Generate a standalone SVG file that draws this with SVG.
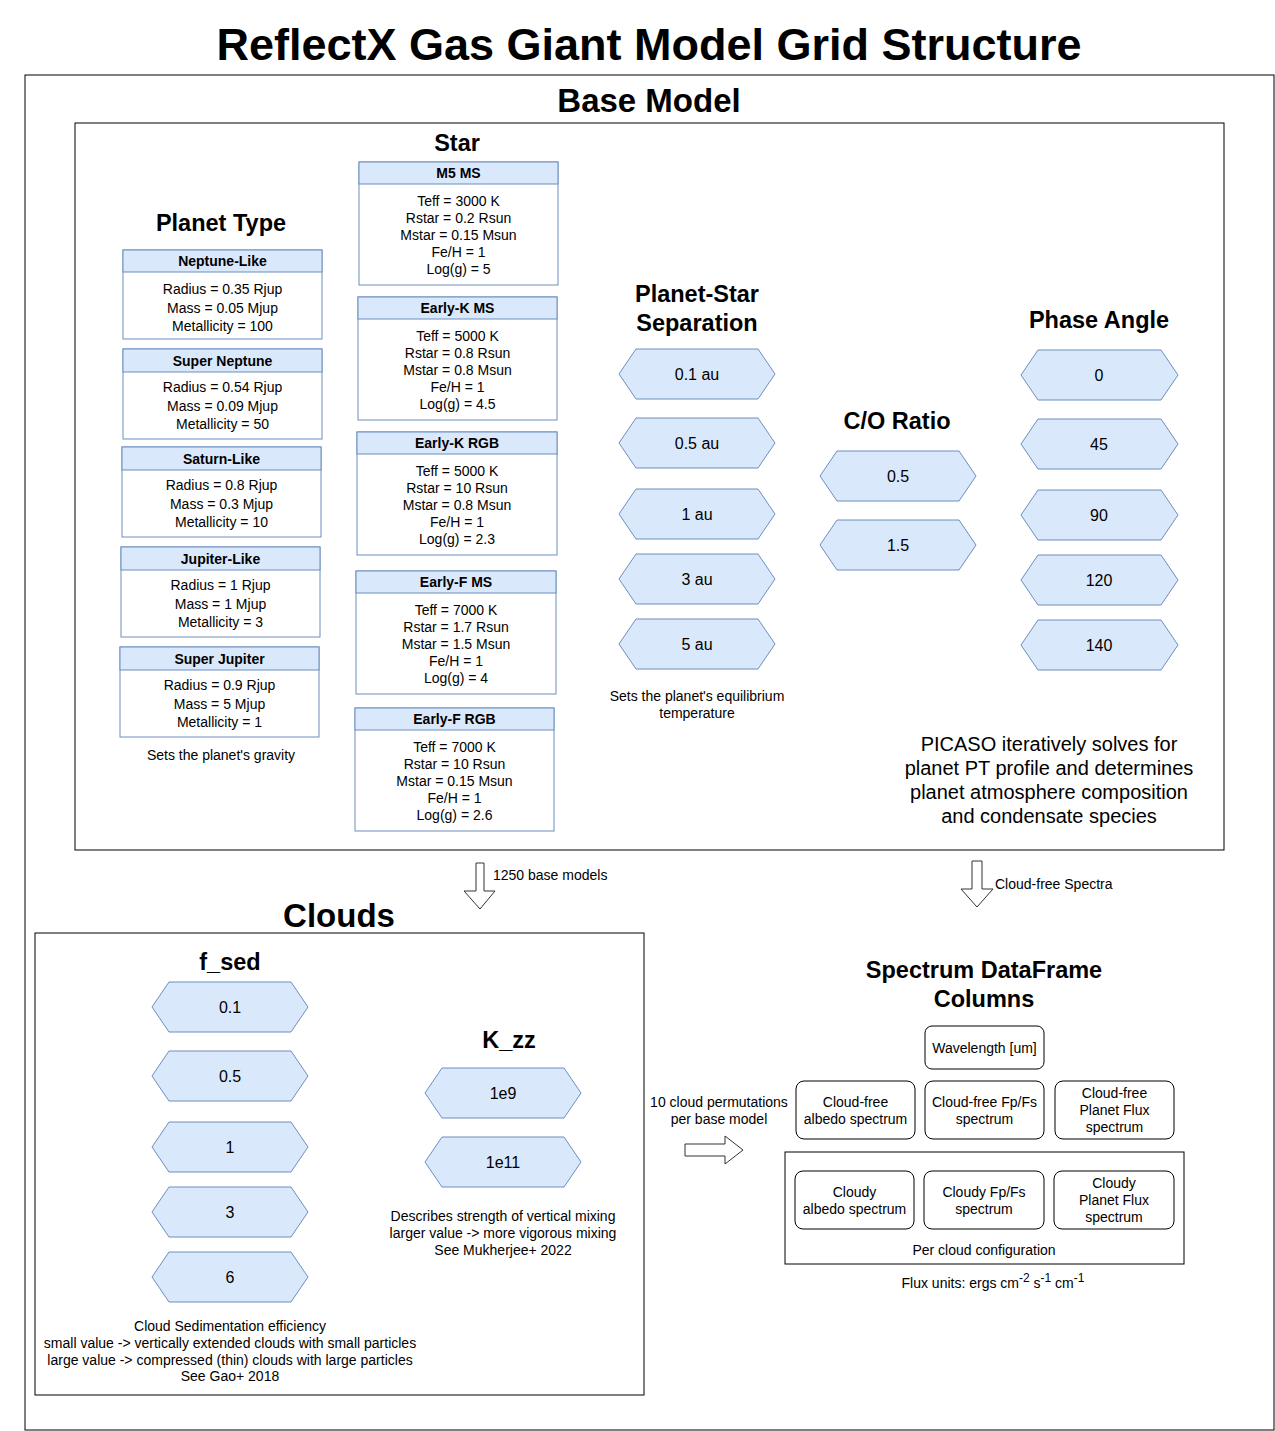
<svg xmlns="http://www.w3.org/2000/svg" width="1275" height="1431" viewBox="0 0 1275 1431">
<style>
text{font-family:"Liberation Sans",Arial,sans-serif;fill:#000;text-anchor:middle}
.t{font-size:45px;font-weight:bold}
.h1{font-size:33px;font-weight:bold}
.h2{font-size:23.5px;font-weight:bold}
.b{font-size:14px}
.bb{font-size:14px;font-weight:bold}
.hx{font-size:16px}
.sp{font-size:14px}
.pic{font-size:20px}
.frame{fill:none;stroke:#000;stroke-width:1}
.card{fill:#fff;stroke:#6c8ebf;stroke-width:1}
.hdr{fill:#dae8fc;stroke:#6c8ebf;stroke-width:1}
.hex{fill:#dae8fc;stroke:#6c8ebf;stroke-width:1}
.rr{fill:#fff;stroke:#000;stroke-width:1}
.arr{fill:#fff;stroke:#333;stroke-width:1}
.l{text-anchor:start}
</style>

<text class="t" x="649" y="60">ReflectX Gas Giant Model Grid Structure</text>
<rect class="frame" x="25" y="75" width="1249" height="1355"/>

<g id="base-model">
<text class="h1" x="649" y="112">Base Model</text>
<rect class="frame" x="75" y="123" width="1149" height="727"/>
</g>

<!-- Planet Type -->
<g id="planet-type">
<text class="h2" x="221" y="231">Planet Type</text>
<text class="b" x="221" y="760">Sets the planet's gravity</text>
</g>
<g id="neptune-like">
<rect class="card" x="123" y="250" width="199" height="89"/>
<rect class="hdr" x="123" y="250" width="199" height="22"/>
<text class="bb" x="222.5" y="266">Neptune-Like</text>
<text class="b" x="222.5" y="294">Radius = 0.35 Rjup</text>
<text class="b" x="222.5" y="312.5">Mass = 0.05 Mjup</text>
<text class="b" x="222.5" y="331">Metallicity = 100</text>
</g>
<g id="super-neptune">
<rect class="card" x="123" y="349" width="199" height="90"/>
<rect class="hdr" x="123" y="349" width="199" height="23"/>
<text class="bb" x="222.5" y="365.5">Super Neptune</text>
<text class="b" x="222.5" y="392">Radius = 0.54 Rjup</text>
<text class="b" x="222.5" y="410.5">Mass = 0.09 Mjup</text>
<text class="b" x="222.5" y="429">Metallicity = 50</text>
</g>
<g id="saturn-like">
<rect class="card" x="122" y="447" width="199" height="90"/>
<rect class="hdr" x="122" y="447" width="199" height="23"/>
<text class="bb" x="221.5" y="463.5">Saturn-Like</text>
<text class="b" x="221.5" y="490">Radius = 0.8 Rjup</text>
<text class="b" x="221.5" y="508.5">Mass = 0.3 Mjup</text>
<text class="b" x="221.5" y="527">Metallicity = 10</text>
</g>
<g id="jupiter-like">
<rect class="card" x="121" y="547" width="199" height="90"/>
<rect class="hdr" x="121" y="547" width="199" height="23"/>
<text class="bb" x="220.5" y="563.5">Jupiter-Like</text>
<text class="b" x="220.5" y="590">Radius = 1 Rjup</text>
<text class="b" x="220.5" y="608.5">Mass = 1 Mjup</text>
<text class="b" x="220.5" y="627">Metallicity = 3</text>
</g>
<g id="super-jupiter">
<rect class="card" x="120" y="647" width="199" height="90"/>
<rect class="hdr" x="120" y="647" width="199" height="23"/>
<text class="bb" x="219.5" y="663.5">Super Jupiter</text>
<text class="b" x="219.5" y="690">Radius = 0.9 Rjup</text>
<text class="b" x="219.5" y="708.5">Mass = 5 Mjup</text>
<text class="b" x="219.5" y="727">Metallicity = 1</text>
</g>

<!-- Star -->
<g id="star">
<text class="h2" x="457" y="151">Star</text>
</g>
<g id="m5-ms">
<rect class="card" x="359" y="162" width="199" height="123"/>
<rect class="hdr" x="359" y="162" width="199" height="22"/>
<text class="bb" x="458.5" y="178">M5 MS</text>
<text class="b" x="458.5" y="206">Teff = 3000 K</text>
<text class="b" x="458.5" y="223">Rstar = 0.2 Rsun</text>
<text class="b" x="458.5" y="240">Mstar = 0.15 Msun</text>
<text class="b" x="458.5" y="257">Fe/H = 1</text>
<text class="b" x="458.5" y="274">Log(g) = 5</text>
</g>
<g id="early-k-ms">
<rect class="card" x="358" y="297" width="199" height="123"/>
<rect class="hdr" x="358" y="297" width="199" height="22"/>
<text class="bb" x="457.5" y="313">Early-K MS</text>
<text class="b" x="457.5" y="341">Teff = 5000 K</text>
<text class="b" x="457.5" y="358">Rstar = 0.8 Rsun</text>
<text class="b" x="457.5" y="375">Mstar = 0.8 Msun</text>
<text class="b" x="457.5" y="392">Fe/H = 1</text>
<text class="b" x="457.5" y="409">Log(g) = 4.5</text>
</g>
<g id="early-k-rgb">
<rect class="card" x="357" y="432" width="200" height="123"/>
<rect class="hdr" x="357" y="432" width="200" height="22"/>
<text class="bb" x="457" y="448">Early-K RGB</text>
<text class="b" x="457" y="476">Teff = 5000 K</text>
<text class="b" x="457" y="493">Rstar = 10 Rsun</text>
<text class="b" x="457" y="510">Mstar = 0.8 Msun</text>
<text class="b" x="457" y="527">Fe/H = 1</text>
<text class="b" x="457" y="544">Log(g) = 2.3</text>
</g>
<g id="early-f-ms">
<rect class="card" x="356" y="571" width="200" height="123"/>
<rect class="hdr" x="356" y="571" width="200" height="22"/>
<text class="bb" x="456" y="587">Early-F MS</text>
<text class="b" x="456" y="615">Teff = 7000 K</text>
<text class="b" x="456" y="632">Rstar = 1.7 Rsun</text>
<text class="b" x="456" y="649">Mstar = 1.5 Msun</text>
<text class="b" x="456" y="666">Fe/H = 1</text>
<text class="b" x="456" y="683">Log(g) = 4</text>
</g>
<g id="early-f-rgb">
<rect class="card" x="355" y="708" width="199" height="123"/>
<rect class="hdr" x="355" y="708" width="199" height="22"/>
<text class="bb" x="454.5" y="724">Early-F RGB</text>
<text class="b" x="454.5" y="752">Teff = 7000 K</text>
<text class="b" x="454.5" y="769">Rstar = 10 Rsun</text>
<text class="b" x="454.5" y="786">Mstar = 0.15 Msun</text>
<text class="b" x="454.5" y="803">Fe/H = 1</text>
<text class="b" x="454.5" y="820">Log(g) = 2.6</text>
</g>

<!-- Separation -->
<g id="separation">
<text class="h2" x="697" y="302">Planet-Star</text>
<text class="h2" x="697" y="331">Separation</text>
<text class="b" x="697" y="701">Sets the planet's equilibrium</text>
<text class="b" x="697" y="718">temperature</text>
</g>
<g id="sep-0.1"><polygon class="hex" points="619,374 636,349 758,349 775,374 758,399 636,399"/><text class="hx" x="697" y="380">0.1 au</text></g>
<g id="sep-0.5"><polygon class="hex" points="619,443 636,418 758,418 775,443 758,468 636,468"/><text class="hx" x="697" y="449">0.5 au</text></g>
<g id="sep-1"><polygon class="hex" points="619,514 636,489 758,489 775,514 758,539 636,539"/><text class="hx" x="697" y="520">1 au</text></g>
<g id="sep-3"><polygon class="hex" points="619,579 636,554 758,554 775,579 758,604 636,604"/><text class="hx" x="697" y="585">3 au</text></g>
<g id="sep-5"><polygon class="hex" points="619,644 636,619 758,619 775,644 758,669 636,669"/><text class="hx" x="697" y="650">5 au</text></g>

<!-- C/O -->
<g id="co-ratio"><text class="h2" x="897" y="429">C/O Ratio</text></g>
<g id="co-0.5"><polygon class="hex" points="820,476 837,451 959,451 976,476 959,501 837,501"/><text class="hx" x="898" y="482">0.5</text></g>
<g id="co-1.5"><polygon class="hex" points="820,545 837,520 959,520 976,545 959,570 837,570"/><text class="hx" x="898" y="551">1.5</text></g>

<!-- Phase angle -->
<g id="phase-angle"><text class="h2" x="1099" y="328">Phase Angle</text></g>
<g id="pa-0"><polygon class="hex" points="1021,375 1038,350 1161,350 1178,375 1161,400 1038,400"/><text class="hx" x="1099" y="381">0</text></g>
<g id="pa-45"><polygon class="hex" points="1021,444 1038,419 1161,419 1178,444 1161,469 1038,469"/><text class="hx" x="1099" y="450">45</text></g>
<g id="pa-90"><polygon class="hex" points="1021,515 1038,490 1161,490 1178,515 1161,540 1038,540"/><text class="hx" x="1099" y="521">90</text></g>
<g id="pa-120"><polygon class="hex" points="1021,580 1038,555 1161,555 1178,580 1161,605 1038,605"/><text class="hx" x="1099" y="586">120</text></g>
<g id="pa-140"><polygon class="hex" points="1021,645 1038,620 1161,620 1178,645 1161,670 1038,670"/><text class="hx" x="1099" y="651">140</text></g>

<g id="picaso-note">
<text class="pic" x="1049" y="751">PICASO iteratively solves for</text>
<text class="pic" x="1049" y="775">planet PT profile and determines</text>
<text class="pic" x="1049" y="799">planet atmosphere composition</text>
<text class="pic" x="1049" y="823">and condensate species</text>
</g>

<!-- Clouds -->
<g id="clouds">
<text class="h1" x="339" y="927">Clouds</text>
<rect class="frame" x="35" y="933" width="609" height="462"/>
</g>
<g id="fsed">
<text class="h2" x="230" y="970">f_sed</text>
<text class="b" x="230" y="1331">Cloud Sedimentation efficiency</text>
<text class="b" x="230" y="1348">small value -&gt; vertically extended clouds with small particles</text>
<text class="b" x="230" y="1365">large value -&gt; compressed (thin) clouds with large particles</text>
<text class="b" x="230" y="1381">See Gao+ 2018</text>
</g>
<g id="fsed-0.1"><polygon class="hex" points="152,1007 169,982 291,982 308,1007 291,1032 169,1032"/><text class="hx" x="230" y="1013">0.1</text></g>
<g id="fsed-0.5"><polygon class="hex" points="152,1076 169,1051 291,1051 308,1076 291,1101 169,1101"/><text class="hx" x="230" y="1082">0.5</text></g>
<g id="fsed-1"><polygon class="hex" points="152,1147 169,1122 291,1122 308,1147 291,1172 169,1172"/><text class="hx" x="230" y="1153">1</text></g>
<g id="fsed-3"><polygon class="hex" points="152,1212 169,1187 291,1187 308,1212 291,1237 169,1237"/><text class="hx" x="230" y="1218">3</text></g>
<g id="fsed-6"><polygon class="hex" points="152,1277 169,1252 291,1252 308,1277 291,1302 169,1302"/><text class="hx" x="230" y="1283">6</text></g>

<g id="kzz">
<text class="h2" x="509" y="1048">K_zz</text>
<text class="b" x="503" y="1221">Describes strength of vertical mixing</text>
<text class="b" x="503" y="1238">larger value -&gt; more vigorous mixing</text>
<text class="b" x="503" y="1255">See Mukherjee+ 2022</text>
</g>
<g id="kzz-1e9"><polygon class="hex" points="425,1093 442,1068 564,1068 581,1093 564,1118 442,1118"/><text class="hx" x="503" y="1099">1e9</text></g>
<g id="kzz-1e11"><polygon class="hex" points="425,1162 442,1137 564,1137 581,1162 564,1187 442,1187"/><text class="hx" x="503" y="1168">1e11</text></g>

<!-- Spectrum DataFrame -->
<g id="spectrum-df">
<text class="h2" x="984" y="978">Spectrum DataFrame</text>
<text class="h2" x="984" y="1007">Columns</text>
<text class="b" x="993" y="1288">Flux units: ergs cm<tspan dy="-6" font-size="12">-2</tspan><tspan dy="6"> s</tspan><tspan dy="-6" font-size="12">-1</tspan><tspan dy="6"> cm</tspan><tspan dy="-6" font-size="12">-1</tspan></text>
</g>
<g id="wavelength"><rect class="rr" x="925" y="1026" width="119" height="43" rx="7"/><text class="sp" x="984.5" y="1053">Wavelength [um]</text></g>
<g id="cf-albedo"><rect class="rr" x="796" y="1081" width="119" height="58" rx="8"/><text class="sp" x="855.5" y="1107">Cloud-free</text><text class="sp" x="855.5" y="1124">albedo spectrum</text></g>
<g id="cf-fpfs"><rect class="rr" x="925" y="1081" width="119" height="58" rx="8"/><text class="sp" x="984.5" y="1107">Cloud-free Fp/Fs</text><text class="sp" x="984.5" y="1124">spectrum</text></g>
<g id="cf-flux"><rect class="rr" x="1055" y="1081" width="119" height="58" rx="8"/><text class="sp" x="1114.5" y="1098">Cloud-free</text><text class="sp" x="1114.5" y="1115">Planet Flux</text><text class="sp" x="1114.5" y="1132">spectrum</text></g>
<g id="per-cloud">
<rect class="frame" x="785" y="1152" width="399" height="112"/>
<text class="b" x="984" y="1255">Per cloud configuration</text>
</g>
<g id="cl-albedo"><rect class="rr" x="795" y="1171" width="119" height="58" rx="8"/><text class="sp" x="854.5" y="1197">Cloudy</text><text class="sp" x="854.5" y="1214">albedo spectrum</text></g>
<g id="cl-fpfs"><rect class="rr" x="924" y="1171" width="120" height="58" rx="8"/><text class="sp" x="984" y="1197">Cloudy Fp/Fs</text><text class="sp" x="984" y="1214">spectrum</text></g>
<g id="cl-flux"><rect class="rr" x="1054" y="1171" width="120" height="58" rx="8"/><text class="sp" x="1114" y="1188">Cloudy</text><text class="sp" x="1114" y="1205">Planet Flux</text><text class="sp" x="1114" y="1222">spectrum</text></g>

<!-- Connectors -->
<g id="connectors">
<polygon class="arr" points="476,863 484,863 484,891 495,891 480,909 464,891 476,891"/>
<text class="b l" x="493" y="880">1250 base models</text>
<polygon class="arr" points="972,861 982,861 982,889 993,889 977,907 961,889 972,889"/>
<text class="b l" x="995" y="889">Cloud-free Spectra</text>
<polygon class="arr" points="685,1144 725,1144 725,1136 743,1150 725,1164 725,1156 685,1156"/>
<text class="b" x="719" y="1107">10 cloud permutations</text>
<text class="b" x="719" y="1124">per base model</text>
</g>
</svg>
